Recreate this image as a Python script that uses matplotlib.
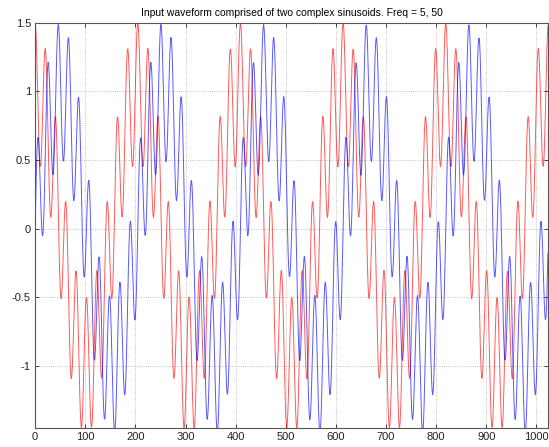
import numpy as np
import matplotlib
matplotlib.use("Agg")
import matplotlib.pyplot as plt

# signal settings
n_samples = 1024
freqs = [5, 50]          # cycles over the whole record
amps = [1.0, 0.5]        # amplitude of each complex sinusoid
title_text = "Input waveform comprised of two complex sinusoids. Freq = 5, 50"
x_ticks = [0, 100, 200, 300, 400, 500, 600, 700, 800, 900, 1000]
y_ticks = [-1, -0.5, 0, 0.5, 1, 1.5]
y_tick_labels = ["-1", "-0.5", "0", "0.5", "1", "1.5"]


def build_signal():
    n = np.arange(n_samples)
    x = np.zeros(n_samples, dtype=complex)
    for f, a in zip(freqs, amps):
        x += a * np.exp(2j * np.pi * f * n / n_samples)
    return n, x


def main():
    plt.rcParams['font.family'] = ['Liberation Sans', 'DejaVu Sans']
    n, x = build_signal()

    fig = plt.figure(figsize=(5.49, 4.47), dpi=100)
    ax = fig.add_axes([0.064, 0.043, 0.934, 0.906])

    ax.plot(n, x.real, color="red", lw=0.7, alpha=0.65)
    ax.plot(n, x.imag, color="blue", lw=0.7, alpha=0.65)

    ax.set_xlim(0, n_samples - 1)
    ax.set_ylim(x.real.min(), max(x.real.max(), x.imag.max()))
    ax.set_xticks(x_ticks)
    ax.set_yticks(y_ticks)
    ax.set_yticklabels(y_tick_labels)

    ax.grid(True, linestyle=":", color="#b0b0b0", lw=0.6)
    ax.tick_params(direction="in", top=True, right=True, labelsize=8,
                   length=3, width=0.6, pad=3, colors="#222222")
    for s in ax.spines.values():
        s.set_linewidth(0.8)
        s.set_color("#555555")

    ax.set_title(title_text, fontsize=7.5, pad=5)

    fig.savefig("out.png", dpi=100)


if __name__ == "__main__":
    main()
